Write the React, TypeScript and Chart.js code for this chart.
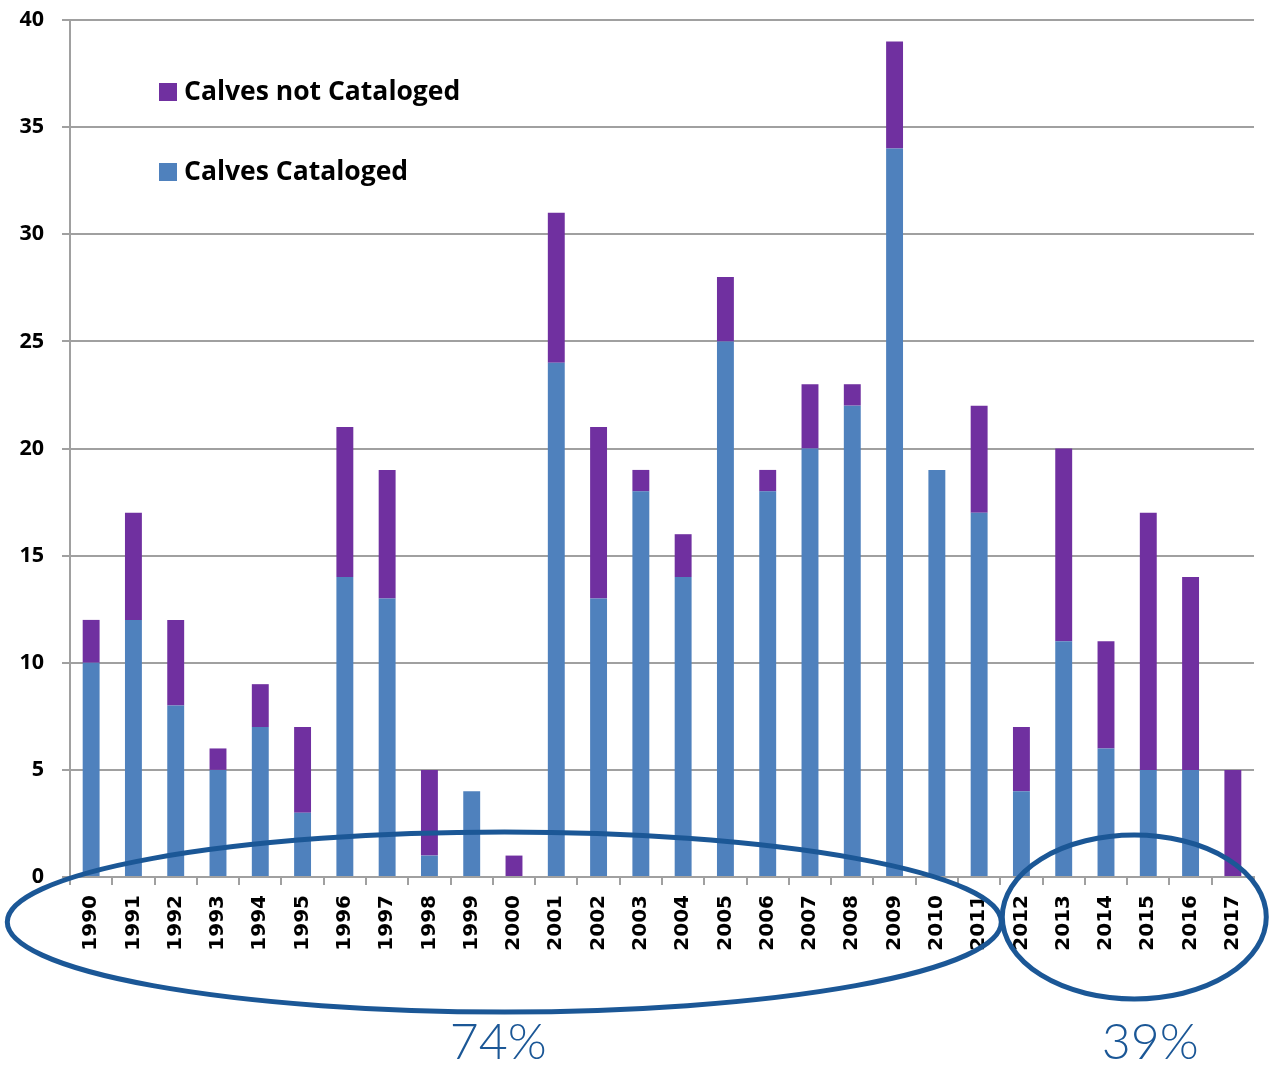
import React, { useEffect, useRef } from "react";
import { Chart, registerables } from "chart.js";

Chart.register(...registerables);

const years = [
  "1990", "1991", "1992", "1993", "1994", "1995", "1996", "1997", "1998", "1999",
  "2000", "2001", "2002", "2003", "2004", "2005", "2006", "2007", "2008", "2009",
  "2010", "2011", "2012", "2013", "2014", "2015", "2016", "2017",
];
const calvesCataloged = [10, 12, 8, 5, 7, 3, 14, 13, 1, 4, 0, 24, 13, 18, 14, 25, 18, 20, 22, 34, 19, 17, 4, 11, 6, 5, 5, 0];
const calvesNotCataloged = [2, 5, 4, 1, 2, 4, 7, 6, 4, 0, 1, 7, 8, 1, 2, 3, 1, 3, 1, 5, 0, 5, 3, 9, 5, 12, 9, 5];
const legendLabels = ["Calves not Cataloged", "Calves Cataloged"];
const percentLabels = ["74%", "39%"];

const BLUE = "#4f81bd";
const PURPLE = "#7030a0";
const GRID = "#a0a0a0";
const ANNOT = "#1b5796";

const overlayPlugin = {
  id: "overlay",
  afterDraw(chart: any) {
    const ctx = chart.ctx as CanvasRenderingContext2D;
    const area = chart.chartArea;
    const xs = chart.scales.x;
    ctx.save();
    // legend
    const items = [
      { label: legendLabels[0], color: PURPLE, cy: area.top + 72 },
      { label: legendLabels[1], color: BLUE, cy: area.top + 152 },
    ];
    ctx.font = "bold 26.5px 'Open Sans'";
    ctx.textBaseline = "middle";
    ctx.textAlign = "left";
    for (const it of items) {
      ctx.fillStyle = it.color;
      ctx.fillRect(area.left + 89, it.cy - 9, 18, 18);
      ctx.fillStyle = "#000";
      ctx.fillText(it.label, area.left + 114, it.cy);
    }
    // ellipses
    ctx.strokeStyle = ANNOT;
    ctx.lineWidth = 5;
    const x11 = xs.getPixelForValue(11);
    const x25 = xs.getPixelForValue(25);
    ctx.beginPath();
    ctx.ellipse(x11 - 52, area.bottom + 45, 497, 90, 0, 0, Math.PI * 2);
    ctx.stroke();
    ctx.beginPath();
    ctx.ellipse(x25 - 14, area.bottom + 40, 132, 82, 0, 0, Math.PI * 2);
    ctx.stroke();
    // percentages
    ctx.fillStyle = ANNOT;
    ctx.font = "300 50px Lato";
    ctx.textAlign = "center";
    ctx.textBaseline = "alphabetic";
    ctx.fillText(percentLabels[0], x11 - 58, area.bottom + 182);
    ctx.fillText(percentLabels[1], x25 + 2, area.bottom + 182);
    ctx.restore();
  },
};

export default function App() {
  const ref = useRef<HTMLCanvasElement | null>(null);
  useEffect(() => {
    if (!ref.current) return;
    const chart = new Chart(ref.current, {
      type: "bar",
      data: {
        labels: years,
        datasets: [
          {
            label: legendLabels[1],
            data: calvesCataloged,
            backgroundColor: BLUE,
            borderWidth: 0,
            barPercentage: 0.4,
            categoryPercentage: 1,
          },
          {
            label: legendLabels[0],
            data: calvesNotCataloged,
            backgroundColor: PURPLE,
            borderWidth: 0,
            barPercentage: 0.4,
            categoryPercentage: 1,
          },
        ],
      },
      options: {
        animation: false,
        responsive: false,
        devicePixelRatio: 1,
        layout: { padding: { top: 20, right: 15, left: 0, bottom: 0 } },
        plugins: { legend: { display: false }, tooltip: { enabled: false } },
        scales: {
          x: {
            stacked: true,
            afterFit: (s: any) => {
              s.height = 190;
              s.paddingLeft = 0;
              s.paddingRight = 0;
            },
            grid: {
              display: true,
              drawOnChartArea: false,
              drawTicks: true,
              tickLength: 8,
              color: GRID,
              lineWidth: 2,
            },
            border: { display: true, color: GRID, width: 2 },
            ticks: {
              autoSkip: false,
              maxRotation: 90,
              minRotation: 90,
              padding: 10,
              color: "#000",
              font: { family: "DejaVu Sans", weight: "bold", size: 20 },
            },
          },
          y: {
            stacked: true,
            min: 0,
            max: 40,
            afterFit: (s: any) => {
              s.width = 70;
              s.paddingTop = 0;
              s.paddingBottom = 0;
            },
            grid: {
              color: GRID,
              lineWidth: 2,
              drawTicks: true,
              tickLength: 8,
            },
            border: { display: true, color: GRID, width: 2 },
            ticks: {
              stepSize: 5,
              padding: 18,
              color: "#000",
              font: { family: "Open Sans", weight: "bold", size: 21.5 },
            },
          },
        },
      },
      plugins: [overlayPlugin],
    } as any);
    return () => chart.destroy();
  }, []);
  return (
    <div style={{ position: "fixed", left: 0, top: 0, width: 1269, height: 1067, background: "#fff" }}>
      <canvas ref={ref} width={1269} height={1067} style={{ width: 1269, height: 1067 }} />
    </div>
  );
}
